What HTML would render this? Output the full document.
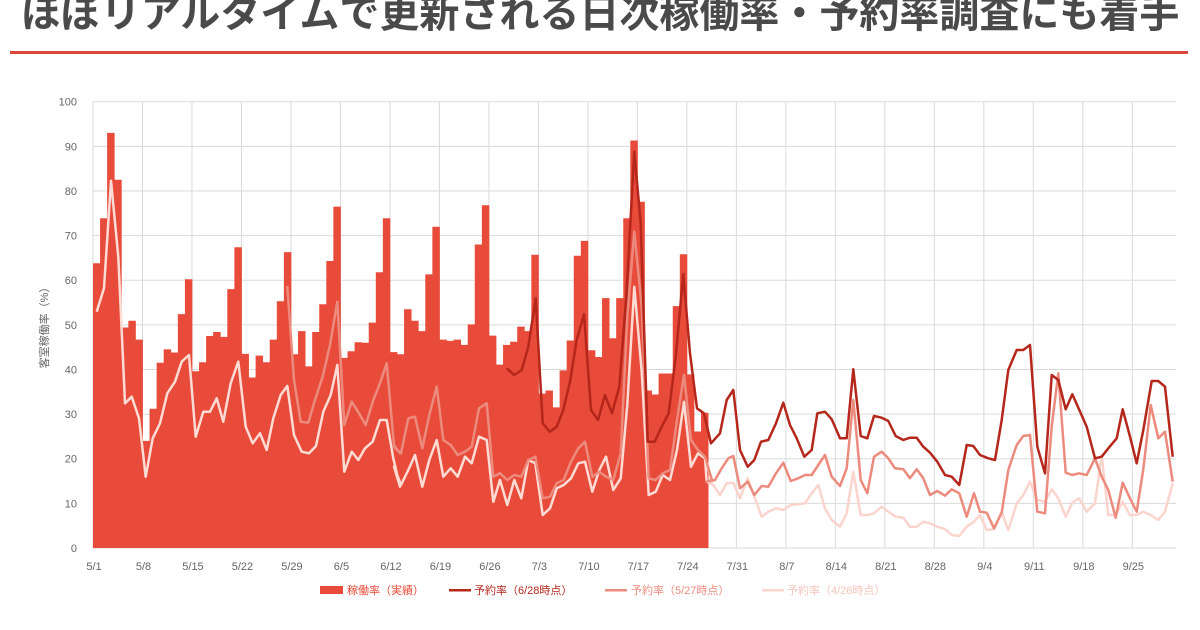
<!DOCTYPE html>
<html><head><meta charset="utf-8"><style>
html,body{margin:0;padding:0;background:#fff;width:1200px;height:630px;overflow:hidden}
svg text{font-family:"Liberation Sans","Noto Sans CJK JP",sans-serif}
</style></head><body>
<svg id="c" width="1200" height="630" xmlns="http://www.w3.org/2000/svg">
<text x="600" y="27" text-anchor="middle" font-size="40" font-weight="bold" fill="#4a4a4a" style="font-family:'Liberation Sans','Noto Sans CJK JP',sans-serif">ほぼリアルタイムで更新される日次稼働率・予約率調査にも着手</text>
<rect x="10" y="51" width="1178" height="3" fill="#d9473a"/>
<g id="grid"></g><g id="bars"></g><g id="lines"></g><g id="labels"></g>
<text transform="translate(48,325) rotate(-90)" text-anchor="middle" font-size="11" fill="#666">客室稼働率（%）</text>
<rect x="320" y="586" width="23" height="8" fill="#e84b3a"/>
<text x="347" y="594" font-size="11" fill="#e84b3a">稼働率（実績）</text>
<rect x="449" y="589" width="22" height="2.5" fill="#b5261b"/>
<text x="474" y="594" font-size="11" fill="#b5261b">予約率（6/28時点）</text>
<rect x="605" y="589" width="22" height="2.5" fill="#ec8b7d"/>
<text x="631" y="594" font-size="11" fill="#ec8b7d">予約率（5/27時点）</text>
<rect x="762" y="589" width="22" height="2.5" fill="#fad4cd"/>
<text x="787" y="594" font-size="11" fill="#f6c4bb">予約率（4/26時点）</text>
</svg>
<script>
var NS="http://www.w3.org/2000/svg";
function el(p,t,a,txt){var e=document.createElementNS(NS,t);for(var k in a)e.setAttribute(k,a[k]);if(txt!=null)e.textContent=txt;document.getElementById(p).appendChild(e);}
var y0=548,py=4.463,x0=93,dx=7.07;
for(var v=0;v<=100;v+=10){var y=y0-v*py;el("grid","line",{x1:x0,x2:1176,y1:y,y2:y,stroke:"#dadada","stroke-width":1});
el("labels","text",{x:77,y:y+4,"text-anchor":"end","font-size":11,fill:"#666"},String(v));}
var dl=["5/1","5/8","5/15","5/22","5/29","6/5","6/12","6/19","6/26","7/3","7/10","7/17","7/24","7/31","8/7","8/14","8/21","8/28","9/4","9/11","9/18","9/25"];
for(var i=0;i<dl.length;i++){var x=x0+i*7*dx;el("grid","line",{x1:x,x2:x,y1:101.7,y2:y0,stroke:"#dadada","stroke-width":1});
el("labels","text",{x:x+1,y:570,"text-anchor":"middle","font-size":11,fill:"#666"},dl[i]);}
var B=[63.8,73.9,93,82.5,49.4,50.9,46.7,24,31.2,41.5,44.5,43.8,52.4,60.2,39.6,41.6,47.5,48.4,47.3,58,67.4,43.5,38.2,43.1,41.6,46.7,55.3,66.3,43.4,48.6,40.7,48.4,54.6,64.3,76.5,42.6,44.1,46.1,46,50.5,61.8,73.9,43.9,43.4,53.5,50.9,48.6,61.3,72,46.7,46.4,46.7,45.5,50.1,68,76.8,47.6,41.1,45.5,46.2,49.6,48.6,65.7,34.6,35.3,31.5,39.8,46.5,65.5,68.8,44.3,42.8,56,47,56,73.9,91.3,77.6,35.3,34.4,39.1,39.1,54.2,65.8,38.9,26.1,30.3];
var d="";for(var i=0;i<B.length;i++){var x=x0+i*dx,h=B[i]*py;d+="M"+x.toFixed(2)+","+y0+"V"+(y0-h).toFixed(1)+"H"+(x+dx+0.4).toFixed(2)+"V"+y0+"Z";}
el("bars","path",{d:d,fill:"#e84b3a"});
function cv(arr,ox,oy){var o=[];for(var i=0;i<arr.length;i+=2)o.push([ox+arr[i]/3,oy+arr[i+1]/3]);return o;}
function pl(pts,col,w){el("lines","polyline",{points:pts.map(function(p){return p[0].toFixed(1)+","+p[1].toFixed(1)}).join(" "),fill:"none",stroke:col,"stroke-width":w,"stroke-linejoin":"round"});}
var L=cv([50,665,72,595,93,272,115,500,135,940,155,920,177,985,197,1160,218,1045,240,1000,262,910,285,875,305,815,327,795,347,1040,370,965,390,965,410,925,430,995,452,880,475,815,497,1010,518,1060,540,1030,560,1080,580,985,602,915,622,888,642,1035,665,1085,687,1090,708,1068,730,965,752,915,772,825,793,1145,815,1085,835,1110,855,1075,878,1055,900,990,920,990,940,1105,960,1190],80,90)
.concat(cv([12,1130,33,1185,55,1140,75,1095,97,1190,118,1110,140,1050,160,1160,182,1135,203,1160,225,1100,245,1120,267,1040,290,1050,310,1235,330,1170,352,1245,373,1170,394,1225,415,1110,436,1120,458,1275,480,1255,500,1195,521,1185,543,1165,565,1120,585,1115,607,1205,628,1140,648,1100,670,1200,692,1165,712,945,733,590,755,845,776,1215,797,1205,818,1155,840,1170,861,1080,882,935,903,1130,924,1090,945,1105,966,1175],390,90))
.concat(cv([20,455,40,465,60,495,80,460,100,458,120,505,143,445,163,500,185,560,205,545,228,535,250,540,272,525,295,523,315,520,335,490,355,465,375,535,395,570,420,590,440,550,460,425,482,555,502,555,522,550,545,530,565,545,587,560,610,563,630,590,650,590,670,575,690,580,712,590,735,597,755,615,778,618,800,590,822,575,840,555,860,600,882,598,905,545,925,600,950,520,970,495,990,455,1012,510,1035,515,1055,478,1075,505,1097,560,1117,518,1137,505,1160,545,1185,520,1205,375,1225,555,1247,555,1268,515,1290,555,1310,555,1330,545,1352,555,1375,570,1395,545,1418,460],700,330));
var M=cv([622,588,642,870,662,995,685,998,705,930,728,860,750,765,772,635,793,1005,815,935,837,970,857,1005,880,930,900,880,920,820,942,1065,960,1090],80,90)
.concat(cv([12,1070,33,1090,55,985,75,980,97,1075,118,975,140,890,160,1050,182,1065,203,1095,225,1085,245,1070,267,955,290,940,310,1160,330,1150,352,1170,373,1155,394,1160,415,1110,436,1100,458,1225,480,1220,500,1180,521,1170,543,1115,565,1075,585,1055,607,1160,628,1145,648,1160,670,1170,692,1090,712,680,733,425,755,650,776,1165,797,1170,818,1150,840,1140,861,990,882,855,903,1050,924,1080,945,1100,966,1170],390,90))
.concat(cv([20,455,45,450,65,415,85,385,100,378,120,475,143,455,163,495,185,468,205,470,228,430,250,398,272,453,295,445,315,435,335,435,355,405,375,375,395,440,420,468,440,415,460,210,482,450,502,490,522,380,545,365,565,385,585,415,610,418,630,445,650,418,670,445,690,495,712,483,735,497,755,478,778,490,800,560,822,490,840,545,860,548,882,595,905,548,925,420,950,345,970,318,990,315,1012,545,1035,550,1055,290,1075,130,1097,428,1117,435,1137,430,1160,435,1185,385,1205,440,1225,480,1247,563,1268,458,1290,505,1310,545,1330,418,1352,225,1375,325,1395,305,1418,455],700,330));
var D=cv([350,835,373,855,395,840,415,770,437,625,458,1000,479,1025,500,1010,520,960,540,875,560,750,582,673,603,960,624,990,645,915,666,970,688,890,709,620,733,185,752,400,773,1055,794,1055,815,1010,836,970,857,800,880,552,900,790,921,955,942,970,963,1060],390,90)
.concat(cv([60,310,80,210,100,180,120,360,143,410,163,390,183,335,205,330,228,280,250,218,270,285,290,325,313,380,335,360,352,250,375,245,395,268,420,325,440,325,460,118,482,318,502,325,522,258,545,263,565,273,587,318,610,330,630,323,650,323,670,350,690,368,712,395,735,435,755,440,778,465,800,345,820,348,840,375,865,385,885,390,905,270,925,120,950,60,970,60,990,45,1012,350,1035,430,1055,135,1075,150,1097,238,1117,193,1137,238,1160,290,1185,385,1205,380,1225,355,1250,325,1268,238,1290,320,1310,400,1330,300,1355,153,1375,153,1395,170,1418,380],700,330));
var Lin=L.filter(function(p){return p[0]<=709}),Lout=L.filter(function(p){return p[0]>=700});
pl(Lout,"#fad4cd",2.5);pl(Lin,"#fcdcd5",2.5);
pl(M,"#ec8b7d",2.5);pl(D,"#b5261b",2.5);
</script>
</body></html>
